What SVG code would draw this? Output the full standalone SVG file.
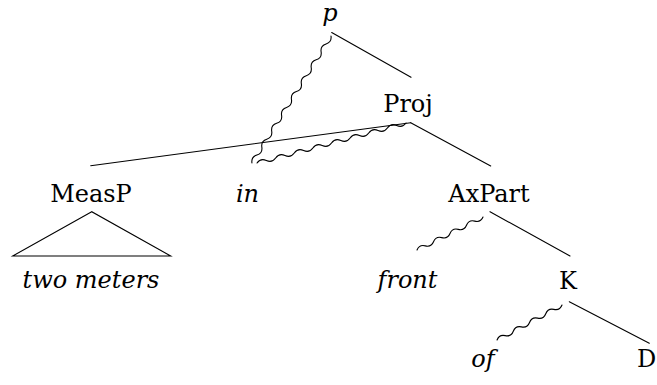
<svg xmlns="http://www.w3.org/2000/svg" width="657" height="385" viewBox="0 0 657 385">
<style>
text{font-family:"DejaVu Serif",serif;font-size:24px;fill:#000;text-anchor:middle}
.it{font-style:italic}
.ln{stroke:#000;stroke-width:1.1;fill:none;stroke-linecap:round}
.wv{stroke:#000;stroke-width:1.1;fill:none;stroke-linecap:round;stroke-linejoin:round}
</style>
<rect width="657" height="385" fill="#fff"/>
<g id="connectors">
<line class="ln" x1="331.7" y1="32.5" x2="411" y2="77.3"/>
<line class="ln" x1="410.7" y1="122.7" x2="90.7" y2="165.7"/>
<line class="ln" x1="410.7" y1="122.7" x2="490.7" y2="166"/>
<line class="ln" x1="490" y1="211.7" x2="570" y2="256"/>
<line class="ln" x1="569.3" y1="301.7" x2="649.3" y2="343.3"/>
<path class="wv" transform="translate(331,36) rotate(121.9)" d="M0,0 q4.68,-4 9.35,0 t9.35,0 t9.35,0 t9.35,0 t9.35,0 t9.35,0 t9.35,0 t9.35,0 t9.35,0 t9.35,0 t9.35,0 t9.35,0 t9.35,0 t9.35,0 t9.35,0 t9.35,0"/>
<path class="wv" transform="translate(406,123) rotate(164.97)" d="M0,0 q4.82,-4 9.64,0 t9.64,0 t9.64,0 t9.64,0 t9.64,0 t9.64,0 t9.64,0 t9.64,0 t9.64,0 t9.64,0 t9.64,0 t9.64,0 t9.64,0 t9.64,0 t9.64,0 t9.64,0"/>
<path class="wv" transform="translate(483,217) rotate(153.43)" d="M0,0 q4.61,-4 9.22,0 t9.22,0 t9.22,0 t9.22,0 t9.22,0 t9.22,0 t9.22,0 t9.22,0"/>
<path class="wv" transform="translate(562,305) rotate(151.7)" d="M0,0 q4.61,-4 9.22,0 t9.22,0 t9.22,0 t9.22,0 t9.22,0 t9.22,0 t9.22,0 t9.22,0"/>
</g>
<g id="node-p"><text class="it" x="330" y="20.5">p</text></g>
<g id="node-proj"><text x="408" y="111.7">Proj</text></g>
<g id="node-measp"><text x="91" y="201.7">MeasP</text>
<polygon class="ln" points="91.7,211.7 12.7,256 170.7,256"/></g>
<g id="node-in"><text class="it" x="247.5" y="201.7">in</text></g>
<g id="node-axpart"><text x="489" y="201.7">AxPart</text></g>
<g id="node-twometers"><text class="it" x="91" y="288.3">two meters</text></g>
<g id="node-front"><text class="it" x="407.5" y="288.3">front</text></g>
<g id="node-k"><text x="568" y="289">K</text></g>
<g id="node-of"><text class="it" x="483" y="366.7">of</text></g>
<g id="node-d"><text x="646.5" y="366.7">D</text></g>
</svg>
